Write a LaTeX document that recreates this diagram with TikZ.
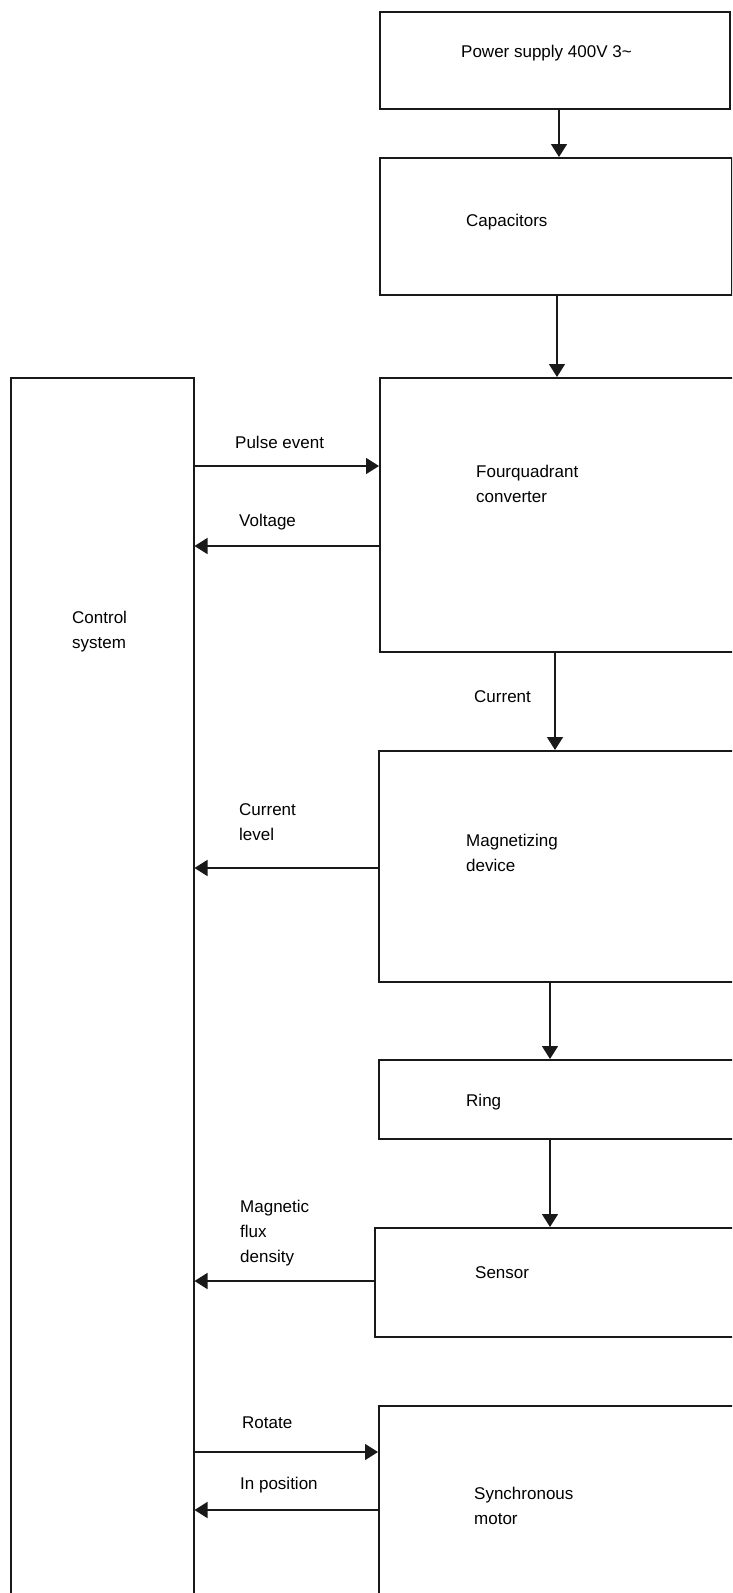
\documentclass[tikz,border=0pt]{standalone}
\usepackage{fontspec}
\setmainfont{Liberation Sans}
\usetikzlibrary{arrows.meta}
\begin{document}
\begin{tikzpicture}[x=1pt,y=-1pt,
  box/.style={draw=black!90, line width=1.5pt, anchor=north west, inner sep=0pt, fill=white},
  txt/.style={anchor=west, inner sep=0pt, align=left, font=\fontsize{17}{25}\selectfont, text=black},
  arr/.style={draw=black!90, line width=1.5pt, -{Triangle[width=16pt,length=13pt]}}]
\clip (0,0) rectangle (732,1593);
\fill[white] (0,0) rectangle (732,1593);
% boxes
\node[box, minimum width=350pt, minimum height=97pt] (power) at (379,11) {};
\node[box, minimum width=352pt, minimum height=137pt] (cap) at (379,157) {};
\node[box, minimum width=370pt, minimum height=274pt] (conv) at (379,377) {};
\node[box, minimum width=183pt, minimum height=1240pt] (ctrl) at (10,377) {};
\node[box, minimum width=370pt, minimum height=231pt] (mag) at (378,750) {};
\node[box, minimum width=370pt, minimum height=79pt] (ring) at (378,1059) {};
\node[box, minimum width=374pt, minimum height=109pt] (sens) at (374,1227) {};
\node[box, minimum width=370pt, minimum height=220pt] (sync) at (378,1405) {};
% texts
\node[txt] (tpower) at (461,53) {Power supply 400V 3\char`\~};
\node[txt] (tcap) at (466,222) {Capacitors};
\node[txt] (tconv) at (476,484) {Fourquadrant\\converter};
\node[txt] (tctrl) at (72,632) {Control\\system};
\node[txt] (tmag) at (466,853) {Magnetizing\\device};
\node[txt] (tring) at (466,1102) {Ring};
\node[txt] (tsens) at (475,1273) {Sensor};
\node[txt] (tsync) at (474,1506) {Synchronous\\motor};
% labels
\node[txt] (lpulse) at (235,442) {Pulse event};
\node[txt] (lvolt) at (239,522) {Voltage};
\node[txt] (lcur) at (474,697) {Current};
\node[txt] (lcurlev) at (239,822) {Current\\level};
\node[txt] (lflux) at (240,1233) {Magnetic\\flux\\density};
\node[txt] (lrot) at (242,1423) {Rotate};
\node[txt] (lpos) at (240,1485) {In position};
% vertical connectors
\draw[arr] (power.south -| 559,0) -- (cap.north -| 559,0);
\draw[arr] (cap.south -| 557,0) -- (conv.north -| 557,0);
\draw[arr] (conv.south -| 555,0) -- (mag.north -| 555,0);
\draw[arr] (mag.south -| 550,0) -- (ring.north -| 550,0);
\draw[arr] (ring.south -| 550,0) -- (sens.north -| 550,0);
% horizontal connectors
\draw[arr] (ctrl.east |- 0,466) -- (conv.west |- 0,466);
\draw[arr] (conv.west |- 0,546) -- (ctrl.east |- 0,546);
\draw[arr] (mag.west |- 0,868) -- (ctrl.east |- 0,868);
\draw[arr] (sens.west |- 0,1281) -- (ctrl.east |- 0,1281);
\draw[arr] (ctrl.east |- 0,1452) -- (sync.west |- 0,1452);
\draw[arr] (sync.west |- 0,1510) -- (ctrl.east |- 0,1510);
\end{tikzpicture}
\end{document}
